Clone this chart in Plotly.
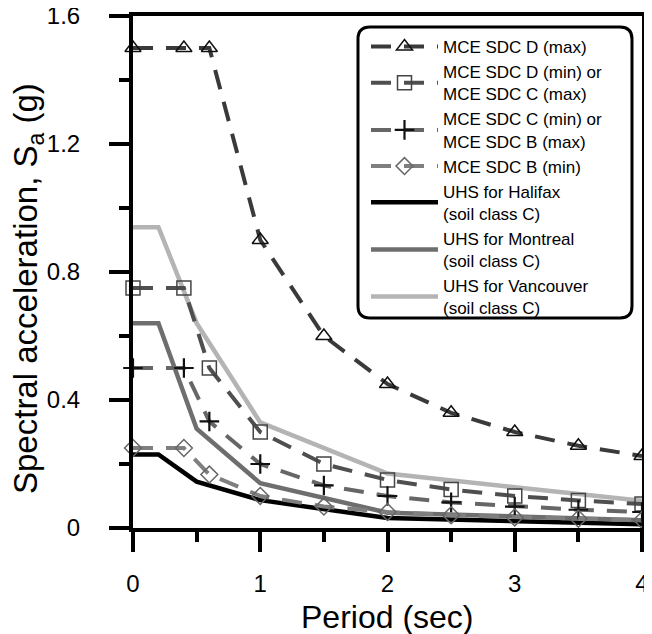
import plotly.graph_objects as go

# ---- data ----
period_mce = [0, 0.4, 0.6, 1.0, 1.5, 2.0, 2.5, 3.0, 3.5, 4.0]
sdc_d_max = [1.5, 1.5, 1.5, 0.9, 0.6, 0.45, 0.36, 0.30, 0.257, 0.225]
sdc_d_min = [0.75, 0.75, 0.5, 0.3, 0.2, 0.15, 0.12, 0.10, 0.086, 0.075]
sdc_c_min = [0.5, 0.5, 0.333, 0.2, 0.133, 0.10, 0.08, 0.067, 0.057, 0.05]
sdc_b_min = [0.25, 0.25, 0.167, 0.1, 0.067, 0.05, 0.04, 0.033, 0.029, 0.025]

period_uhs = [0, 0.2, 0.5, 1.0, 2.0, 4.0]
uhs_halifax = [0.23, 0.23, 0.145, 0.087, 0.031, 0.012]
uhs_montreal = [0.64, 0.64, 0.31, 0.14, 0.048, 0.024]
uhs_vancouver = [0.94, 0.94, 0.64, 0.33, 0.17, 0.085]

names_mce = ["MCE SDC D (max)", "MCE SDC D (min) or<br>MCE SDC C (max)",
             "MCE SDC C (min) or<br>MCE SDC B (max)", "MCE SDC B (min)"]
names_uhs = ["UHS for Halifax<br>(soil class C)", "UHS for Montreal<br>(soil class C)",
             "UHS for Vancouver<br>(soil class C)"]

x_ticks = [0, 1, 2, 3, 4]
y_ticks = [0, 0.4, 0.8, 1.2, 1.6]
y_ticktext = ["0", "0.4", "0.8", "1.2", "1.6"]
x_title = "Period (sec)"
y_title = "Spectral acceleration, S<sub>a</sub> (g)"

FONT = "Liberation Sans, Arial, sans-serif"
fig = go.Figure()

# UHS lines (drawn first, listed last in legend)
for name, vals, col, rank in zip(names_uhs, [uhs_halifax, uhs_montreal, uhs_vancouver],
                                  ["#000000", "#6e6e6e", "#b4b4b4"], [5, 6, 7]):
    fig.add_trace(go.Scatter(x=period_uhs, y=vals, mode="lines", name=name,
                             line=dict(color=col, width=4.5), legendrank=rank))

mce_specs = [
    (sdc_d_max, "triangle-up-open", "#3a3a3a", "#111111", 14),
    (sdc_d_min, "square-open", "#4f4f4f", "#444444", 14),
    (sdc_c_min, "cross-thin-open", "#666666", "#111111", 14),
    (sdc_b_min, "diamond-open", "#7f7f7f", "#666666", 13),
]
for i, (vals, sym, lcol, mcol, msize) in enumerate(mce_specs):
    fig.add_trace(go.Scatter(
        x=period_mce, y=vals, mode="lines+markers", name=names_mce[i],
        line=dict(color=lcol, width=4, dash="20px,13px"),
        marker=dict(symbol=sym, size=msize, color=mcol,
                    line=dict(color=mcol, width=2.2 if "cross" in sym else 1.5)),
        cliponaxis=False, legendrank=i + 1))

# page offset (browser body margin)
OFF = 8
# plot area in page pixels
Lp, Rp, Tp, Bp = 133, 642, 16, 528
W, H = 652 - OFF, 634 - OFF
L, R, T, B = Lp - OFF, Rp - OFF, Tp - OFF, Bp - OFF
pw, ph = R - L, B - T

def px_to_paper(xp, yp):
    x, y = xp - OFF, yp - OFF
    return (x - L) / pw, (B - y) / ph

# rounded legend frame (page px)
x0, y0, x1, y1, r = 358, 27, 632, 318, 12
def P(x, y):
    a, b = px_to_paper(x, y)
    return f"{a:.5f},{b:.5f}"
path = (f"M {P(x0 + r, y0)} L {P(x1 - r, y0)} Q {P(x1, y0)} {P(x1, y0 + r)} "
        f"L {P(x1, y1 - r)} Q {P(x1, y1)} {P(x1 - r, y1)} "
        f"L {P(x0 + r, y1)} Q {P(x0, y1)} {P(x0, y1 - r)} "
        f"L {P(x0, y0 + r)} Q {P(x0, y0)} {P(x0 + r, y0)} Z")

lx, ly = px_to_paper(366, 29)
xtx, xty = px_to_paper((Lp + Rp) / 2, 617)
ytx, yty = px_to_paper(28, 289)

fig.update_layout(
    width=W, height=H,
    margin=dict(l=L, r=W - R, t=T, b=H - B, autoexpand=False),
    paper_bgcolor="white", plot_bgcolor="white",
    font=dict(family=FONT, color="#000000"),
    shapes=[dict(type="path", xref="paper", yref="paper", path=path,
                 line=dict(color="black", width=3), fillcolor="white", layer="above")],
    legend=dict(x=lx, y=ly, xanchor="left", yanchor="top", bgcolor="rgba(0,0,0,0)",
                borderwidth=0, font=dict(size=17, family=FONT), tracegroupgap=0,
                itemwidth=67),
    showlegend=True,
    annotations=[
        dict(text=x_title, xref="paper", yref="paper", x=xtx, y=xty,
             xanchor="center", yanchor="middle", showarrow=False,
             font=dict(size=32, family=FONT, color="black")),
        dict(text=y_title, xref="paper", yref="paper", x=ytx, y=yty, textangle=-90,
             xanchor="center", yanchor="middle", showarrow=False,
             font=dict(size=33, family=FONT, color="black")),
    ],
)

axis_common = dict(showline=True, linecolor="black", linewidth=4, mirror=True,
                   ticks="outside", ticklen=20, tickwidth=4, tickcolor="black",
                   showgrid=False, zeroline=False, automargin=False,
                   ticklabeloverflow="allow",
                   tickfont=dict(size=24, family=FONT, color="black"))

fig.update_xaxes(range=[0, 4], tickvals=x_ticks,
                 minor=dict(dtick=0.5, tick0=0, ticks="outside", ticklen=10,
                            tickwidth=4, tickcolor="black"),
                 ticklabelstandoff=11,
                 **axis_common)
fig.update_yaxes(range=[0, 1.6], tickvals=y_ticks, ticktext=y_ticktext,
                 minor=dict(dtick=0.2, tick0=0, ticks="outside", ticklen=10,
                            tickwidth=4, tickcolor="black"),
                 ticklabelstandoff=24,
                 **axis_common)

fig.write_html("out.html")
